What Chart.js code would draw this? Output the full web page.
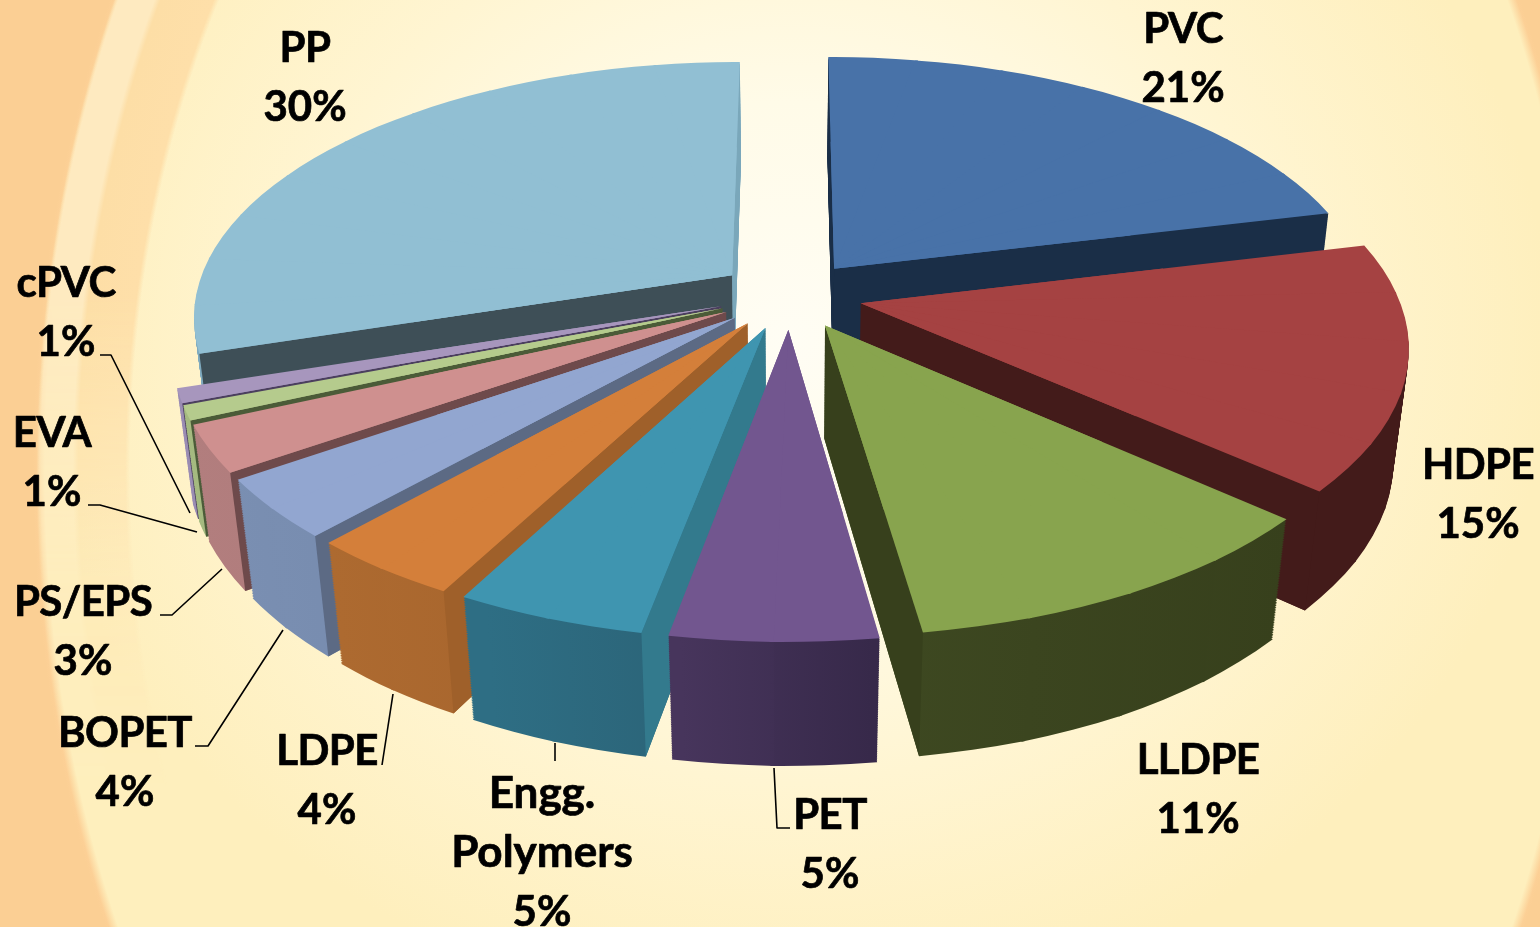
<!DOCTYPE html>
<html><head><meta charset="utf-8">
<style>
html,body{margin:0;padding:0;width:1540px;height:927px;overflow:hidden}
body{position:relative;background:radial-gradient(ellipse 760px 680px at 790px 340px,#fffdf4 0%,#fffbe8 35%,#fff5d2 65%,#feefbd 100%);}
.bg{position:absolute;left:0;top:0;width:1540px;height:927px}
#ring{background:radial-gradient(ellipse 782px 1087px at 815px 470px,rgba(252,208,150,0) 98.5%,#fcd096 99.6%,#fbcf94 100%)}
#band{width:400px;background:radial-gradient(ellipse 782px 1087px at 815px 470px,rgba(254,223,169,0) 87.6%,#fedfa9 88.2%,#fddea6 94.2%,#feeac0 94.9%,#feeac0 99%,rgba(254,234,192,0) 99.5%);
 -webkit-mask-image:linear-gradient(to bottom,#000 0,#000 32%,rgba(0,0,0,.25) 62%,rgba(0,0,0,0) 85%);mask-image:linear-gradient(to bottom,#000 0,#000 32%,rgba(0,0,0,.25) 62%,rgba(0,0,0,0) 85%)}
canvas{display:block;position:relative}
</style>
<script src="https://cdn.jsdelivr.net/npm/chart.js@4"></script>
</head><body>
<div class="bg" id="ring"></div><div class="bg" id="band"></div>
<canvas id="c" width="1540" height="927"></canvas>
<script>
const categories=['PVC','HDPE','LLDPE','PET','Engg. Polymers','LDPE','BOPET','PS/EPS','EVA','cPVC','PP'];
const shares=[21.2,15.3,11.2,5.2,4.8,3.9,3.7,2.9,0.9,0.9,29.9];
const topColors=['#4872a8','#a54242','#88a44e','#72568f','#3f95b0','#d47f3a','#92a6d0','#cf908f','#b5cb8d','#a796bd','#91bfd3'];
const wallLeft=['#1a2e47','#431b1a','#3f4a22','#47355c','#2e6e84','#ad6a30','#7a8fb2','#b27e7e','#a5ba80','#9a8cb3','#7faabe'];
const wallRight=['#1a2e47','#431b1a','#37401c','#37294a','#2a5f72','#a05f2a','#6f83a6','#ad7878','#a0b57c','#9a8cb3','#7faabe'];
const radialStartWalls=['#1a2e47','#431b1a','#37401c','#37294a','#337a8d','#9f602a','#5c6a84','#6e4a4b','#4b5b38','#4b3f5e','#3e4f57'];
const radialEndWalls=['#1a2e47','#431b1a','#37401c','#37294a','#337a8d','#9f602a','#5c6a84','#6e4a4b','#4b5b38','#4b3f5e','#7aa7ba'];

const view={cx:790,cy:295,rx:537,ry:252,depth:114,persp:0.155,perspZ:0.025,explode:0.135,layers:70,wedge:0.2,core:0.6};
const font={family:'Lato, sans-serif',size:42,lowerSize:44,weight:'700',lineGap:59,stroke:0.7};
// label layout: centre x and first baseline of each category's text block
const labelPos=[[1183,43],[1478,479],[1198,774],[830,829],[542,808],[327,765],[125,747],[83,616],[52,447],[66,297],[305,62]];
const leaders=[null,null,null,[[774,768],[777,828],[790,828]],[[555,743],[555,761]],[[382,765],[393,694]],
 [[195,746],[208,746],[283,630]],[[160,615],[172,615],[222,569]],[[88,505],[100,505],[197,532]],[[100,355],[111,355],[190,513]],null];

function project(nx,ny,z){
  const w=1-view.persp*ny+view.perspZ*z;
  return [view.cx+view.rx*nx/w, view.cy+(view.ry*ny+view.depth*z)/w];
}
function sliceGeom(el){
  const a0=el.startAngle,a1=el.endAngle,mid=(a0+a1)/2;
  const ex=Math.cos(mid)*view.explode,ey=Math.sin(mid)*view.explode;
  const at=(a,z)=>project(Math.cos(a)+ex,Math.sin(a)+ey,z);
  return {a0,a1,mid,ex,ey,at,apex:z=>project(ex,ey,z)};
}
function affineFor(el,g,w0,w1,z,R){
  const C=g.apex(z),S=g.at(w0,z),E=g.at(w1,z);
  const sx=R*Math.cos(w0),sy=R*Math.sin(w0),ex=R*Math.cos(w1),ey=R*Math.sin(w1);
  const det=sx*ey-ex*sy;
  const u=[S[0]-C[0],S[1]-C[1]],v=[E[0]-C[0],E[1]-C[1]];
  const a=(u[0]*ey-v[0]*sy)/det, c=(-u[0]*ex+v[0]*sx)/det;
  const b=(u[1]*ey-v[1]*sy)/det, d=(-u[1]*ex+v[1]*sx)/det;
  return {a,b,c,d,e:C[0]-a*el.x-c*el.y,f:C[1]-b*el.x-d*el.y};
}
function wallGradient(ctx,m,i,g,z){
  const xs=[];for(let t=0;t<=8;t++)xs.push(g.at(g.a0+(g.a1-g.a0)*t/8,z)[0]);
  xs.push(g.apex(z)[0]);
  const x0=Math.min(...xs),x1=Math.max(...xs),yy=g.apex(z)[1];
  const det=m.a*m.d-m.b*m.c;
  const inv=(X,Y)=>{const dx=X-m.e,dy=Y-m.f;return [(m.d*dx-m.c*dy)/det,(-m.b*dx+m.a*dy)/det];};
  const p0=inv(x0,yy),p1=inv(x1,yy);
  const gr=ctx.createLinearGradient(p0[0],p0[1],p1[0],p1[1]);
  gr.addColorStop(0,wallLeft[i]);gr.addColorStop(1,wallRight[i]);
  return gr;
}
function paintArc(ctx,el,saved,m,fill){
  el.options=Object.assign({},saved,{backgroundColor:fill,borderWidth:0,offset:0,spacing:0,borderColor:'transparent'});
  ctx.save();ctx.setTransform(m.a,m.b,m.c,m.d,m.e,m.f);
  el.draw(ctx);
  ctx.restore();
}
// draw one level of a slice through the library's own arc element, wedge by wedge
function drawLevel(ctx,el,g,i,z,flat){
  const saved={o:el.options,s:el.startAngle,e:el.endAngle,c:el.circumference,r:el.outerRadius};
  const R=saved.r;
  if(flat){ // inner core under the wedges so their shared edges leave no hairlines
    el.outerRadius=R*view.core;
    paintArc(ctx,el,saved.o,affineFor(el,g,g.a0,g.a1,z,R),flat);
    el.outerRadius=R;
  }
  const n=Math.max(1,Math.ceil((g.a1-g.a0)/view.wedge));
  for(let j=0;j<n;j++){
    const w0=g.a0+(g.a1-g.a0)*j/n;
    const w1=g.a0+(g.a1-g.a0)*(j+1)/n;
    const wEnd=j<n-1?w1+0.006:w1;
    const m=affineFor(el,g,w0,wEnd,z,R);
    el.startAngle=w0;el.endAngle=wEnd;el.circumference=wEnd-w0;
    paintArc(ctx,el,saved.o,m,flat||wallGradient(ctx,m,i,g,z));
  }
  el.options=saved.o;el.startAngle=saved.s;el.endAngle=saved.e;el.circumference=saved.c;
}
function radialQuad(ctx,g,a,color){
  const A0=g.apex(0),P0=g.at(a,0),A1=g.apex(1),P1=g.at(a,1);
  const M=g.at(g.mid,0);
  const ed=[P0[0]-A0[0],P0[1]-A0[1]];
  const side=ed[0]*(M[1]-A0[1])-ed[1]*(M[0]-A0[0]);
  const down=ed[0]*(A1[1]-A0[1])-ed[1]*(A1[0]-A0[0]);
  if(side*down>=0) return;
  ctx.fillStyle=color;ctx.beginPath();ctx.moveTo(...A0);ctx.lineTo(...P0);ctx.lineTo(...P1);ctx.lineTo(...A1);ctx.closePath();ctx.fill();
}
const pie3d={id:'pie3d',
  beforeDatasetsDraw(chart){
    const ctx=chart.ctx,arcs=chart.getDatasetMeta(0).data;
    const order=arcs.map((el,i)=>({el,i,g:sliceGeom(el)})).sort((p,q)=>Math.sin(p.g.mid)-Math.sin(q.g.mid));
    for(const {el,i,g} of order){
      for(let k=view.layers;k>=1;k--) drawLevel(ctx,el,g,i,k/view.layers,null);
      radialQuad(ctx,g,g.a0,radialStartWalls[i]);
      radialQuad(ctx,g,g.a1,radialEndWalls[i]);
      drawLevel(ctx,el,g,i,0,topColors[i]);
    }
    ctx.save();
    ctx.strokeStyle='#000';ctx.lineWidth=1.6;ctx.lineJoin='round';
    leaders.forEach(l=>{ if(!l) return; ctx.beginPath();l.forEach((p,n)=>n?ctx.lineTo(p[0],p[1]):ctx.moveTo(p[0],p[1]));ctx.stroke();});
    ctx.fillStyle='#000';ctx.textAlign='center';ctx.textBaseline='alphabetic';ctx.lineWidth=font.stroke;
    categories.forEach((name,i)=>{
      const lines=name.split(' ').concat([Math.round(shares[i])+'%']);
      lines.forEach((t,n)=>{
        const lower=(t.match(/[a-z]/g)||[]).length>=3;
        ctx.font=`${font.weight} ${lower?font.lowerSize:font.size}px ${font.family}`;
        ctx.letterSpacing=(!lower&&/[A-Z]/.test(t))?'-0.6px':'0px';
        const y=labelPos[i][1]+n*font.lineGap;
        ctx.fillText(t,labelPos[i][0],y);ctx.strokeText(t,labelPos[i][0],y);
      });
    });
    ctx.restore();
    return false;
  }};
new Chart(document.getElementById('c'),{
  type:'pie',
  data:{labels:categories,datasets:[{data:shares,backgroundColor:topColors,borderWidth:0}]},
  options:{responsive:false,animation:false,rotation:0,layout:{padding:0},
    plugins:{legend:{display:false},tooltip:{enabled:false}}},
  plugins:[pie3d]});
</script>
</body></html>
